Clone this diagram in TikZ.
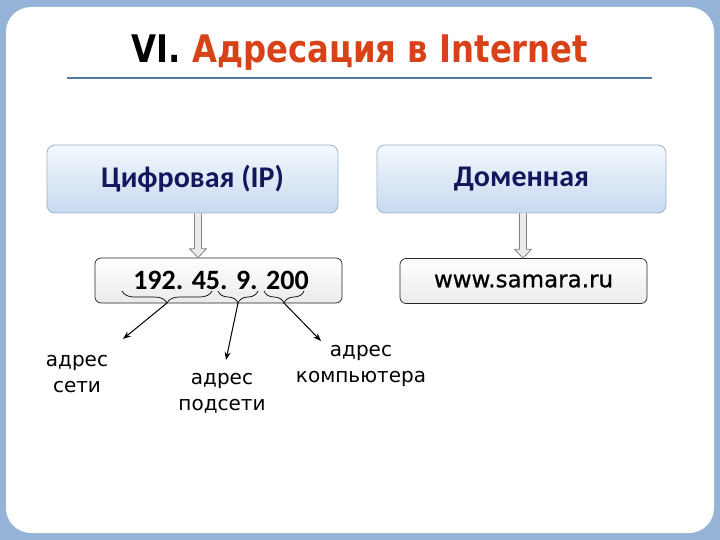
\documentclass[tikz,border=0pt]{standalone}
\usepackage{fontspec}
\setmainfont{DejaVu Sans}
\newfontfamily\carlito{Carlito}
\newfontfamily\titlefont{DejaVu Sans}[FakeStretch=0.85]
\newfontfamily\webfont{DejaVu Sans}[FakeBold=0.8]
\usetikzlibrary{calc,decorations.pathreplacing,arrows.meta}
\definecolor{bgblue}{RGB}{149,179,215}
\definecolor{boxborder}{RGB}{157,179,206}
\definecolor{boxtop}{RGB}{244,248,252}
\definecolor{boxbot}{RGB}{199,217,240}
\definecolor{navy}{RGB}{22,22,92}
\definecolor{titlered}{RGB}{216,66,24}
\definecolor{lineblue}{RGB}{84,122,170}
\definecolor{arrgray}{RGB}{130,130,130}
\definecolor{arrfill}{RGB}{235,235,235}
\begin{document}
\begin{tikzpicture}[x=1pt,y=-1pt,
  topbox/.style={draw=boxborder, line width=0.8pt, rounded corners=8pt,
    top color=boxtop, bottom color=boxbot, minimum height=68pt,
    inner sep=0pt, font=\carlito\bfseries\fontsize{30}{34}\selectfont, text=navy},
  subbox/.style={draw=black!85, line width=0.7pt, rounded corners=6pt,
    top color=white, bottom color=black!8, minimum width=247pt,
    minimum height=45pt, inner sep=0pt},
  blockarr/.style={draw=arrgray, fill=arrfill, line width=0.8pt, line join=miter},
  bracestyle/.style={draw=black, line width=0.7pt,
    decorate, decoration={brace,mirror,amplitude=12pt}},
  ptr/.style={draw=black, line width=1pt, -{Stealth[length=8pt,width=6pt]}},
  note/.style={align=center, font=\fontsize{20}{26}\selectfont, inner sep=0pt}
]
\useasboundingbox (0,0) rectangle (720,540);
\fill[bgblue] (0,0) rectangle (720,540);
\fill[white, rounded corners=25pt] (6,7) rectangle (714,533);

% title
\node[font=\titlefont\bfseries\fontsize{38}{44}\selectfont, inner sep=0pt, anchor=base] (title) at (360,63)
  {\textcolor{black}{VI.} \textcolor{titlered}{Адресация в Internet}};
\draw[lineblue, line width=2pt] (67,78) -- (652,78);

% boxes
\node[topbox, minimum width=291pt] (b1) at (192.5,179) {Цифровая (IP)};
\node[topbox, minimum width=289pt] (b2) at (521.5,179) {Доменная};
\node[subbox, font=\carlito\bfseries\fontsize{28}{32}\selectfont] (b3) at (218.5,280.5) {\hspace*{5pt}192. 45. 9. 200};
\node[subbox, font=\webfont\fontsize{23}{28}\selectfont] (b4) at (523.5,281) {www.samara.ru};

% block arrows
\coordinate (a1s) at ($(b1.south)+(5.5,0)$);
\coordinate (a1t) at (a1s |- b3.north);
\draw[blockarr] ($(a1s)+(-3.5,0)$) -- ($(a1t)+(-3.5,-9)$) -- ($(a1t)+(-8.5,-9)$) -- (a1t)
  -- ($(a1t)+(8.5,-9)$) -- ($(a1t)+(3.5,-9)$) -- ($(a1s)+(3.5,0)$);
\coordinate (a2s) at ($(b2.south)+(1.5,0)$);
\coordinate (a2t) at (a2s |- b4.north);
\draw[blockarr] ($(a2s)+(-3.5,0)$) -- ($(a2t)+(-3.5,-9)$) -- ($(a2t)+(-8.5,-9)$) -- (a2t)
  -- ($(a2t)+(8.5,-9)$) -- ($(a2t)+(3.5,-9)$) -- ($(a2s)+(3.5,0)$);

% braces
\draw[bracestyle] (122,291) -- (212,291);
\draw[bracestyle] (218,291) -- (258,291);
\draw[bracestyle] (264,291) -- (304,291);
\coordinate (t1) at (167,303);
\coordinate (t2) at (238,303);
\coordinate (t3) at (284,303);
\coordinate (e1) at (123,339);
\coordinate (e2) at (226,360);
\coordinate (e3) at (321,341);
\draw[ptr] (t1) -- (e1);
\draw[ptr] (t2) -- (e2);
\draw[ptr] (t3) -- (e3);

% labels
\node[note] (n1) at (77,374) {адрес\\сети};
\node[note] (n2) at (222,393) {адрес\\подсети};
\node[note] (n3) at (361,366) {адрес\\компьютера};
\end{tikzpicture}
\end{document}
